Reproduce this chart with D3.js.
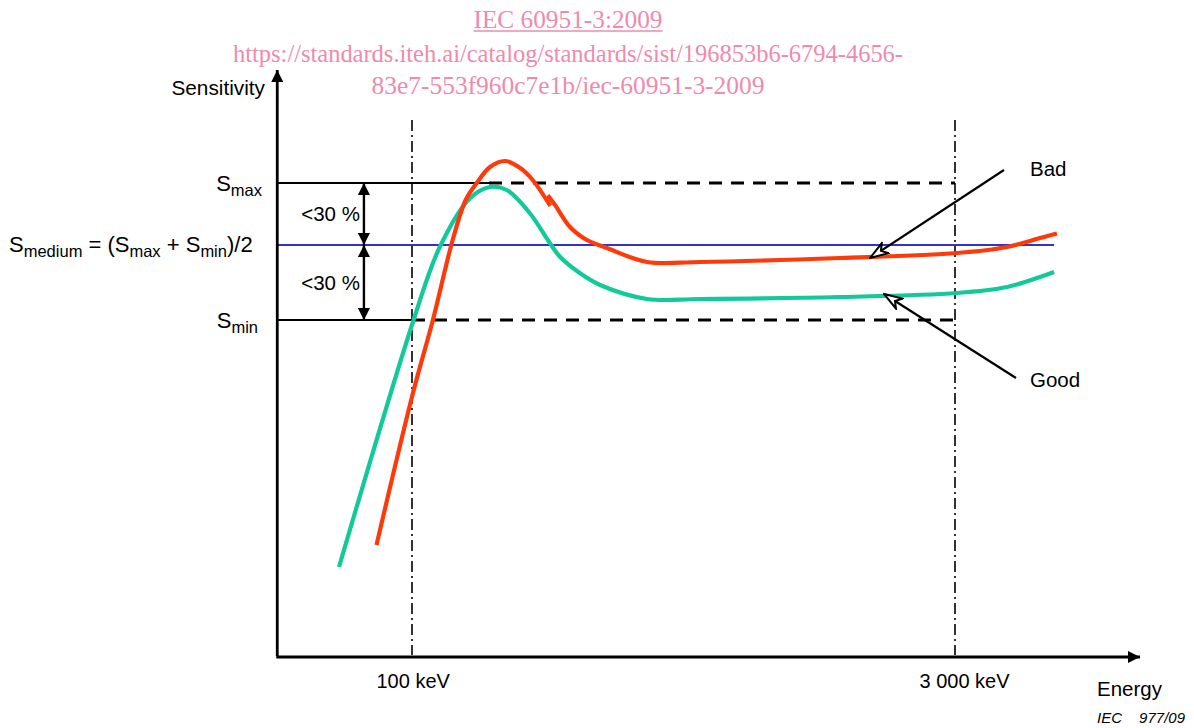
<!DOCTYPE html>
<html><head><meta charset="utf-8">
<script src="https://cdn.jsdelivr.net/npm/d3@7"></script>
<style>
html,body{margin:0;padding:0;background:#fff;}
svg text{font-family:"Liberation Sans",Arial,sans-serif;fill:#000;}
</style></head>
<body>
<svg id="chart" width="1194" height="728"></svg>
<script>
// ---------------- data ----------------
const energyTicks = [100, 3000];                 // keV
const energyTickLabels = ["100 keV", "3 000 keV"];
const axisExtent = [43, 9560];                   // keV range of x axis
const sensitivityExtent = [0, 585];              // arbitrary sensitivity units
const levelNames = ["Smax", "Smedium", "Smin"];
const levelValues = [472, 410, 335];
// "Good" response curve (keV, sensitivity)
const goodEnergy = [63.3, 101, 119, 144, 163, 181, 209, 237, 253, 286, 325, 436, 607, 1460, 3040, 4156, 5110, 5580];
const goodSens   = [88, 335, 408, 457, 468, 465, 442, 412, 398, 382, 370, 356, 356, 358, 362, 368, 378, 383];
// "Bad" response curve, segment 0 before the small jog, 1 after
const badEnergy  = [80.3, 100.6, 114, 129, 140, 150, 163, 179, 197, 213, 236, 236, 246, 269, 299, 339, 436, 607, 1460, 3040, 4156, 5110, 5610];
const badSens    = [112, 262, 335, 415, 455, 472, 488, 494, 487, 475, 451, 458, 449, 428, 415, 407, 393, 393, 397, 402, 408, 417, 421];
const badSegment = [0,0,0,0,0,0,0,0,0,0,0,1,1,1,1,1,1,1,1,1,1,1,1];
// annotation arrows: [tailE, tailS, tipE, tipS]
const badArrow  = [4077, 485, 1762, 397];
const goodArrow = [4396, 277, 1923, 361];
const rangeLabel = "<30 %";
const rangeArrowEnergy = 74;

// ---------------- scales ----------------
const svg = d3.select("#chart");
const x = d3.scaleLog().domain(energyTicks).range([412, 955]);
const y = d3.scaleLinear().domain(sensitivityExtent).range([655, 70]);
const x0 = x(axisExtent[0]), x1 = x(axisExtent[1]);
const y0 = y(0), yTop = y(sensitivityExtent[1]);

const defs = svg.append("defs");
defs.append("marker").attr("id","solidHead").attr("viewBox","0 0 12 12")
  .attr("refX",12).attr("refY",6).attr("markerWidth",12).attr("markerHeight",12)
  .attr("markerUnits","userSpaceOnUse").attr("orient","auto-start-reverse")
  .append("path").attr("d","M0,0 L12,6 L0,12 Z").attr("fill","#000");
defs.append("marker").attr("id","openHead").attr("viewBox","0 0 20 16")
  .attr("refX",19).attr("refY",8).attr("markerWidth",20).attr("markerHeight",16)
  .attr("markerUnits","userSpaceOnUse").attr("orient","auto")
  .append("path").attr("d","M1,2 L19,8 L1,14 L6,8 Z").attr("fill","#fff").attr("stroke","#000").attr("stroke-width",2).attr("stroke-linejoin","miter");

// ---------------- watermark ----------------
const wm = svg.append("g");
const wmLines = [
  {t:"IEC 60951-3:2009", yb:28, w:189},
  {t:"https://standards.iteh.ai/catalog/standards/sist/196853b6-6794-4656-", yb:62, w:670},
  {t:"83e7-553f960c7e1b/iec-60951-3-2009", yb:94, w:393}
];
wmLines.forEach(l=>{
  wm.append("text").attr("x",568).attr("y",l.yb).attr("text-anchor","middle")
    .attr("font-size",26).attr("textLength",l.w).attr("lengthAdjust","spacingAndGlyphs")
    .style("font-family","'Liberation Serif','Times New Roman',serif").style("fill","#ef8aae").text(l.t);
});
wm.append("line").attr("x1",568-94.5).attr("x2",568+94.5).attr("y1",31).attr("y2",31)
  .attr("stroke","#ef8aae").attr("stroke-width",1.3);

// ---------------- reference lines ----------------
const g = svg.append("g");
g.selectAll("line.vdd").data(energyTicks).join("line").attr("class","vdd")
  .attr("x1",d=>x(d)).attr("x2",d=>x(d)).attr("y1",y(535)).attr("y2",y0)
  .attr("stroke","#000").attr("stroke-width",1.6).attr("stroke-dasharray","11,4,2,4");

const lvl = levelNames.map((n,i)=>({n, v:levelValues[i]}));
const smax = lvl.find(d=>d.n==="Smax"), smin = lvl.find(d=>d.n==="Smin"), smed = lvl.find(d=>d.n==="Smedium");
const solidEnd = {Smax: 162, Smin: 100};
[smax, smin].forEach(d=>{
  g.append("line").attr("x1",x0).attr("x2",x(solidEnd[d.n])).attr("y1",y(d.v)).attr("y2",y(d.v))
    .attr("stroke","#000").attr("stroke-width",2.2);
  g.append("line").attr("x1",x(solidEnd[d.n])).attr("x2",x(energyTicks[1])).attr("y1",y(d.v)).attr("y2",y(d.v))
    .attr("stroke","#000").attr("stroke-width",2.8).attr("stroke-dasharray","13,9");
});
g.append("line").attr("x1",x0).attr("x2",x(5580)).attr("y1",y(smed.v)).attr("y2",y(smed.v))
  .attr("stroke","#3333cc").attr("stroke-width",2);

// ---------------- curves ----------------
const line = d3.line().x(d=>x(d[0])).y(d=>y(d[1])).curve(d3.curveCatmullRom.alpha(0.5));
const goodPts = goodEnergy.map((e,i)=>[e, goodSens[i]]);
g.append("path").attr("d",line(goodPts)).attr("fill","none").attr("stroke","#12c99a").attr("stroke-width",4.2);
const badGroups = d3.groups(badEnergy.map((e,i)=>({e, s:badSens[i], seg:badSegment[i]})), d=>d.seg);
badGroups.forEach(([k,pts])=>{
  g.append("path").attr("d",line(pts.map(p=>[p.e,p.s]))).attr("fill","none")
    .attr("stroke","#ff3a0a").attr("stroke-width",4.2).attr("stroke-linejoin","round").attr("stroke-linecap","square");
});

// ---------------- double arrows ----------------
const ax = x(rangeArrowEnergy);
[[smax.v, smed.v],[smed.v, smin.v]].forEach(([a,b])=>{
  g.append("line").attr("x1",ax).attr("x2",ax).attr("y1",y(a)).attr("y2",y(b))
    .attr("stroke","#000").attr("stroke-width",2.4)
    .attr("marker-start","url(#solidHead)").attr("marker-end","url(#solidHead)");
  g.append("text").attr("x",ax-4).attr("y",(y(a)+y(b))/2+7).attr("text-anchor","end")
    .attr("font-size",20.5).text(rangeLabel);
});

// ---------------- axes ----------------
g.append("line").attr("x1",x0).attr("x2",x0).attr("y1",y0+1).attr("y2",yTop)
  .attr("stroke","#000").attr("stroke-width",2.8).attr("marker-end","url(#solidHead)");
g.append("line").attr("x1",x0-1).attr("x2",x1).attr("y1",y0+2).attr("y2",y0+2)
  .attr("stroke","#000").attr("stroke-width",2.8).attr("marker-end","url(#solidHead)");

const xAxis = d3.axisBottom(x).tickValues(energyTicks).tickSize(0)
  .tickFormat((d,i)=>energyTickLabels[i]);
const xa = svg.append("g").attr("transform",`translate(0,${y0+2})`).call(xAxis);
xa.select(".domain").remove();
xa.selectAll("text").attr("font-size",20).attr("font-family","'Liberation Sans',Arial,sans-serif")
  .attr("fill","#000").attr("text-anchor","start").attr("dx",-36).attr("y",31).attr("dy",0);

svg.append("text").attr("x",1097).attr("y",696).attr("font-size",20.5).text("Energy");
svg.append("text").attr("x",1097).attr("y",723).attr("font-size",15).attr("font-style","italic").text("IEC");
svg.append("text").attr("x",1185).attr("y",723).attr("text-anchor","end").attr("font-size",15)
  .attr("font-style","italic").text("977/09");
svg.append("text").attr("x",265).attr("y",95).attr("text-anchor","end").attr("font-size",20.8).text("Sensitivity");

// ---------------- level labels ----------------
function sLabel(xp, yp, sub, anchor){
  const t = svg.append("text").attr("x",xp).attr("y",yp).attr("text-anchor",anchor).attr("font-size",22);
  t.append("tspan").text("S");
  t.append("tspan").attr("font-size",16.5).attr("dy",5).text(sub);
  return t;
}
sLabel(262, y(smax.v)+8, "max", "end");
sLabel(258, y(smin.v)+8, "min", "end");
const tm = svg.append("text").attr("x",9).attr("y",y(smed.v)+7).attr("font-size",22);
tm.append("tspan").text("S");
tm.append("tspan").attr("font-size",16.5).attr("dy",5).text("medium");
tm.append("tspan").attr("dy",-5).text(" = (S");
tm.append("tspan").attr("font-size",16.5).attr("dy",5).text("max");
tm.append("tspan").attr("dy",-5).text(" + S");
tm.append("tspan").attr("font-size",16.5).attr("dy",5).text("min");
tm.append("tspan").attr("dy",-5).text(")/2");

// ---------------- Bad / Good annotations ----------------
[[badArrow,"Bad",1030,176],[goodArrow,"Good",1030,387]].forEach(([a,lab,tx,ty])=>{
  g.append("line").attr("x1",x(a[0])).attr("y1",y(a[1])).attr("x2",x(a[2])).attr("y2",y(a[3]))
    .attr("stroke","#000").attr("stroke-width",2.2).attr("marker-end","url(#openHead)");
  svg.append("text").attr("x",tx).attr("y",ty).attr("font-size",20.5).text(lab);
});
</script>
</body></html>
